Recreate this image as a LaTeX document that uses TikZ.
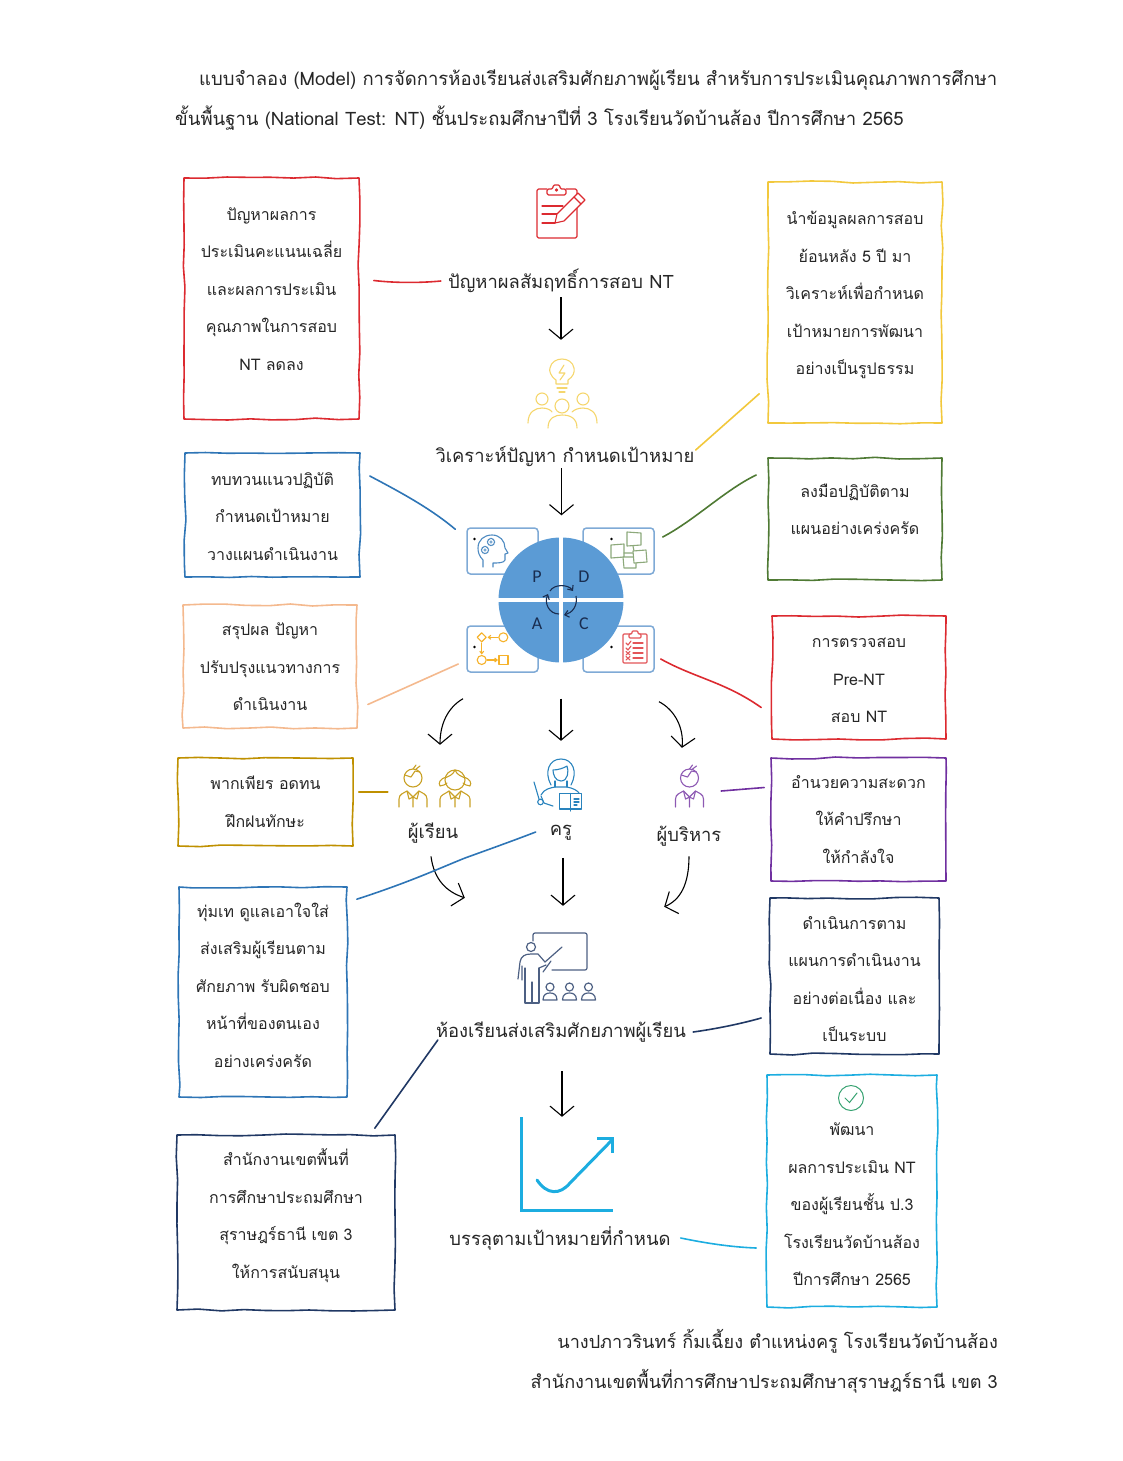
\documentclass[tikz,border=0pt]{standalone}
\usepackage{fontspec}
\setmainfont[Script=Thai]{Loma}
\newfontfamily\pdcafont{Carlito}
\usetikzlibrary{arrows.meta,calc,decorations.pathmorphing}
\definecolor{boxred}{HTML}{DC2A30}
\definecolor{boxyellow}{HTML}{F2C83C}
\definecolor{boxblue}{HTML}{2E75B6}
\definecolor{boxgreen}{HTML}{4F7A34}
\definecolor{boxpeach}{HTML}{F4B98E}
\definecolor{boxgold}{HTML}{BF9000}
\definecolor{boxpurple}{HTML}{7030A0}
\definecolor{boxnavy}{HTML}{1F4E79}
\definecolor{boxdeep}{HTML}{203864}
\definecolor{boxcyan}{HTML}{1CADE0}
\definecolor{discblue}{HTML}{5B9BD5}
\definecolor{cardblue}{HTML}{7FAAD6}
\definecolor{inktext}{HTML}{262626}
\tikzset{
  sketchbox/.style={draw=#1,line width=1.6pt,line join=round,inner sep=0pt,align=center,
    font=\fontsize{16}{37.5}\selectfont,text=inktext,
    decorate,decoration={random steps,segment length=22pt,amplitude=1pt}},
  flowlabel/.style={font=\fontsize{18.4}{24}\selectfont,text=inktext,inner sep=1pt},
  pagetext/.style={font=\fontsize{18.5}{24}\selectfont,text=inktext,inner sep=0pt},
  signtext/.style={font=\fontsize{18.1}{24}\selectfont,text=inktext,inner sep=0pt},
  linkline/.style={draw=#1,line width=1.6pt,line cap=round},
  flowarrow/.style={draw=black,line width=1.1pt,-{Straight Barb[length=10pt,width=24pt]}},
  card/.style={draw=cardblue,fill=white,line width=1.5pt,rounded corners=3.5pt,minimum width=71pt,minimum height=46pt,inner sep=0pt},
  pdcaletter/.style={font=\pdcafont\fontsize{18}{20}\selectfont,text=boxdeep!80!black,inner sep=0pt},
  cyclearrow/.style={draw=boxdeep!80!black,line width=1.1pt,-{Straight Barb[length=4pt,width=7pt]}},
  iconspot/.style={inner sep=0pt,minimum width=#1},
  iconline/.style={draw=#1,line width=1.1pt,line cap=round,line join=round},
  pics/boyicon/.style={code={
    \draw (0,0) circle (9);
    \draw (-8,-3) -- (-2,-1) -- (2,-7) -- (7,-6);
    \draw (0,-9) -- (3,-13) (3,-9) -- (7,-12);
    \draw (-14,29) -- (-14,21) .. controls (-14,16) and (-9,15) .. (-6,13) -- (0,19) -- (6,13) .. controls (9,15) and (14,16) .. (14,21) -- (14,29);
    \draw (0,19) -- (0,29) (-6,13) -- (-4,21) -- (0,19) -- (4,21) -- (6,13);
  }},
  pics/pupilicon/.style={code={
    \draw (0,0) circle (4);
    \draw (-7,13) .. controls (-7,7) and (-3,6) .. (0,6) .. controls (3,6) and (7,7) .. (7,13) -- cycle;
  }},
}
\begin{document}
\begin{tikzpicture}[x=1pt,y=-1pt]
\useasboundingbox (0,0) rectangle (1123,1461);
\pgfmathsetseed{17}

\node[pagetext,anchor=west] (titleA) at (199,80) {แบบจำลอง (Model) การจัดการห้องเรียนส่งเสริมศักยภาพผู้เรียน สำหรับการประเมินคุณภาพการศึกษา};
\node[pagetext,anchor=west] (titleB) at (175,118) {ขั้นพื้นฐาน (National Test: NT) ชั้นประถมศึกษาปีที่ 3 โรงเรียนวัดบ้านส้อง ปีการศึกษา 2565};
\node[signtext,anchor=east] (authorA) at (998,1341) {นางปภาวรินทร์ กิ้มเฉี้ยง ตำแหน่งครู โรงเรียนวัดบ้านส้อง};
\node[signtext,anchor=east] (authorB) at (998,1381) {สำนักงานเขตพื้นที่การศึกษาประถมศึกษาสุราษฎร์ธานี เขต 3};

\node[sketchbox=boxred,minimum width=175pt,minimum height=241pt,text width=175pt] (issueBox) at (271.5,298.5)
  {ปัญหาผลการ\\ประเมินคะแนนเฉลี่ย\\และผลการประเมิน\\คุณภาพในการสอบ\\NT ลดลง\\[-18.5pt]\mbox{}};
\node[sketchbox=boxyellow,minimum width=174pt,minimum height=241pt,text width=174pt] (dataBox) at (855,302.5)
  {นำข้อมูลผลการสอบ\\ย้อนหลัง 5 ปี มา\\วิเคราะห์เพื่อกำหนด\\เป้าหมายการพัฒนา\\อย่างเป็นรูปธรรม\\[-18.5pt]\mbox{}};
\node[sketchbox=boxblue,minimum width=175pt,minimum height=124pt,text width=175pt] (planBox) at (272.5,515)
  {\mbox{}\\[-21.5pt]ทบทวนแนวปฏิบัติ\\กำหนดเป้าหมาย\\วางแผนดำเนินงาน};
\node[sketchbox=boxgreen,minimum width=174pt,minimum height=122pt,text width=174pt] (doBox) at (855,519)
  {ลงมือปฏิบัติตาม\\แผนอย่างเคร่งครัด\\[-18.5pt]\mbox{}};
\node[sketchbox=boxpeach,minimum width=174pt,minimum height=123pt,text width=174pt] (actBox) at (270,666.5)
  {\mbox{}\\[-23.5pt]สรุปผล ปัญหา\\ปรับปรุงแนวทางการ\\ดำเนินงาน};
\node[sketchbox=boxred,minimum width=174pt,minimum height=123pt,text width=174pt] (checkBox) at (859,677.5)
  {\mbox{}\\[-21.5pt]การตรวจสอบ\\Pre-NT\\สอบ NT};
\node[sketchbox=boxgold,minimum width=175pt,minimum height=88pt,text width=175pt] (pupilBox) at (265.5,802)
  {พากเพียร อดทน\\ฝึกฝนทักษะ};
\node[sketchbox=boxpurple,minimum width=175pt,minimum height=123pt,text width=175pt] (headBox) at (858.5,819.5)
  {อำนวยความสะดวก\\ให้คำปรึกษา\\ให้กำลังใจ};
\node[sketchbox=boxblue,minimum width=168pt,minimum height=210pt,text width=168pt] (tutorBox) at (263,992)
  {ทุ่มเท ดูแลเอาใจใส่\\ส่งเสริมผู้เรียนตาม\\ศักยภาพ รับผิดชอบ\\หน้าที่ของตนเอง\\อย่างเคร่งครัด\\[-23.5pt]\mbox{}};
\node[sketchbox=boxdeep,minimum width=169pt,minimum height=156pt,text width=169pt] (runBox) at (854.5,976)
  {\mbox{}\\[-18.5pt]ดำเนินการตาม\\แผนการดำเนินงาน\\อย่างต่อเนื่อง และ\\เป็นระบบ};
\node[sketchbox=boxdeep,minimum width=218pt,minimum height=175pt,text width=218pt] (officeBox) at (286,1222.5)
  {สำนักงานเขตพื้นที่\\การศึกษาประถมศึกษา\\สุราษฎร์ธานี เขต 3\\ให้การสนับสนุน\\[-19.5pt]\mbox{}};
\node[sketchbox=boxcyan,minimum width=170pt,minimum height=232pt,text width=170pt] (growBox) at (852,1191)
  {\mbox{}\\[2.5pt]พัฒนา\\ผลการประเมิน NT\\ของผู้เรียนชั้น ป.3\\โรงเรียนวัดบ้านส้อง\\ปีการศึกษา 2565};

\node[iconspot=60pt,minimum height=54pt] (issueIcon) at (561,212) {};
\node[flowlabel] (issueLabel) at (561,281) {ปัญหาผลสัมฤทธิ์การสอบ NT};
\node[iconspot=80pt,minimum height=90pt] (teamIcon) at (561,385) {};
\node[flowlabel] (teamLabel) at (565,457) {วิเคราะห์ปัญหา กำหนดเป้าหมาย};

\node[card] (planCard) at (502.5,551) {};
\node[card] (doCard) at (618.5,551) {};
\node[card] (actCard) at (502.5,649) {};
\node[card] (checkCard) at (618.5,649) {};
\node[circle,fill=discblue,minimum size=125pt,inner sep=0pt] (pdcaDisc) at (561,600) {};
\draw[white,line width=4.5pt] (pdcaDisc.north) -- (pdcaDisc.south);
\draw[white,line width=4.5pt] (pdcaDisc.west) -- (pdcaDisc.east);
\node[pdcaletter] (letterP) at (537,577) {P};
\node[pdcaletter] (letterD) at (584,577) {D};
\node[pdcaletter] (letterA) at (537,624) {A};
\node[pdcaletter] (letterC) at (584,624) {C};
\draw[cyclearrow] (550,591) .. controls (554,584) and (568,584) .. (573,591);
\draw[cyclearrow] (576,596) .. controls (578,606) and (572,613) .. (564,615);
\draw[cyclearrow] (559,614) .. controls (549,614) and (544,603) .. (548,594);
\fill (474.5,539) circle (1.4) (611.5,539) circle (1.4) (474.5,647) circle (1.4) (611.5,647) circle (1.4);

\node[iconspot=80pt,minimum height=36pt] (pupilIcon) at (434,778) {};
\node[iconspot=50pt,minimum height=52pt] (tutorIcon) at (561,782) {};
\node[iconspot=40pt,minimum height=36pt] (headIcon) at (689,778) {};
\node[flowlabel] (pupilLabel) at (433,833) {ผู้เรียน};
\node[flowlabel] (tutorLabel) at (561,833) {ครู};
\node[flowlabel] (headLabel) at (689,836) {ผู้บริหาร};
\node[iconspot=80pt,minimum height=74pt] (roomIcon) at (557,968) {};
\node[flowlabel] (roomLabel) at (561,1032) {ห้องเรียนส่งเสริมศักยภาพผู้เรียน};
\node[iconspot=92pt,minimum height=94pt] (goalIcon) at (567,1164) {};
\node[flowlabel] (goalLabel) at (560,1238) {บรรลุตามเป้าหมายที่กำหนด};

\draw[flowarrow] ($(issueLabel.south)+(0,3)$) -- (teamIcon.north);
\draw[flowarrow] ($(teamLabel.south)+(-3.5,0)$) -- ($(pdcaDisc.north)+(0.5,-22)$);
\draw[flowarrow] ($(pdcaDisc.south)+(-98,36)$) .. controls (447,708) and (440,725) .. ($(pupilIcon.north)+(6,-15)$);
\draw[flowarrow] ($(pdcaDisc.south)+(0,36)$) -- ($(tutorIcon.north)+(0,-15)$);
\draw[flowarrow] ($(pdcaDisc.south)+(98,39)$) .. controls (675,710) and (684,728) .. ($(headIcon.north)+(-7,-12)$);
\draw[flowarrow] ($(pupilLabel.south)+(-2,12)$) .. controls (434,880) and (447,892) .. ($(roomIcon.north west)+(-52,-33)$);
\draw[flowarrow] ($(tutorLabel.south)+(2,16)$) -- ($(roomIcon.north)+(6,-25)$);
\draw[flowarrow] ($(headLabel.south)+(0,9)$) .. controls (689,885) and (680,900) .. ($(roomIcon.north east)+(67,-24)$);
\draw[flowarrow] ($(roomLabel.south)+(1,28)$) -- ($(goalIcon.north)+(-5,0)$);

\draw[linkline=boxred] ($(issueBox.east)+(14,-18)$) .. controls (395,283) and (420,283) .. ($(issueLabel.west)+(-6,0)$);
\draw[linkline=boxyellow] ($(teamLabel.east)+(0,-7)$) -- ($(dataBox.south west)+(-8,-30)$);
\draw[linkline=boxblue] ($(planBox.east)+(9,-39)$) .. controls (400,492) and (430,508) .. ($(planCard.north west)+(-11,2)$);
\draw[linkline=boxgreen] ($(doCard.east)+(8,-14)$) .. controls (695,520) and (725,490) .. ($(doBox.west)+(-11,-44)$);
\draw[linkline=boxpeach] ($(actBox.east)+(10,38)$) -- ($(actCard.west)+(-8,15)$);
\draw[linkline=boxred] ($(checkCard.east)+(6,10)$) .. controls (695,678) and (725,682) .. ($(checkBox.west)+(-10,30)$);
\draw[linkline=boxgold] ($(pupilBox.east)+(5,-10)$) -- ($(pupilIcon.west)+(-6,14)$);
\draw[linkline=boxpurple] ($(headIcon.east)+(12,13)$) -- ($(headBox.west)+(-6,-32)$);
\draw[linkline=boxblue] ($(tutorBox.north east)+(9,13)$) .. controls (410,882) and (440,868) .. (465,858) .. controls (490,849) and (515,840) .. ($(tutorLabel.west)+(-13,-1)$);
\draw[linkline=boxdeep] ($(roomLabel.east)+(6,0)$) .. controls (715,1029) and (740,1024) .. ($(runBox.west)+(-8,42)$);
\draw[linkline=boxdeep] ($(officeBox.north east)+(-21,-6)$) -- ($(roomLabel.west)+(3,8)$);
\draw[linkline=boxcyan] ($(goalLabel.east)+(9,0)$) .. controls (705,1243) and (730,1247) .. ($(growBox.west)+(-10,57)$);

\begin{scope}[iconline=boxred]
\draw[rounded corners=1.5pt] (566,189) -- (577,189) -- (577,238) -- (537,238) -- (537,189) -- (547,189);
\draw[rounded corners=1.5pt] (547,195) -- (566,195) -- (566,189) -- (560,189) -- (560,185) -- (553,185) -- (553,189) -- (547,189) -- cycle;
\draw (556.5,190) circle (1.2);
\draw (542,206) -- (563,206) (542,214) -- (560,214) (542,223) -- (555,223);
\draw[fill=white] (555,223) -- (557,214) -- (578,193) -- (585,200) -- (564,221) -- cycle;
\draw (574,197) -- (581,204);
\end{scope}

\begin{scope}[iconline=boxyellow!75!white]
\draw (556,384) -- (556,380) .. controls (550,376) and (549,370) .. (550,368) .. controls (552,356) and (572,356) .. (574,368) .. controls (575,372) and (573,377) .. (568,380) -- (568,384) -- cycle;
\draw (557,388) -- (567,388) (559,392) -- (565,392);
\draw (564,365) -- (559,373) -- (565,373) -- (560,380);
\draw (542,399) circle (6) (583,399) circle (6) (562,406) circle (7);
\draw (528,423) .. controls (528,412) and (535,408) .. (542,408) .. controls (547,408) and (551,410) .. (552,412);
\draw (597,423) .. controls (597,412) and (590,408) .. (583,408) .. controls (578,408) and (574,410) .. (572,412);
\draw (548,428) .. controls (548,418) and (555,415) .. (562,415) .. controls (570,415) and (577,418) .. (577,428);
\end{scope}

\begin{scope}[iconline=boxblue!85!white]
\draw (483,567) -- (483,560) .. controls (479,556) and (478,552) .. (478,548) .. controls (478,540) and (484,535) .. (492,535) .. controls (500,535) and (505,541) .. (505,548) -- (508,553) -- (505,554) -- (505,560) .. controls (504,563) and (498,563) .. (493,563) -- (493,567);
\draw[dash pattern=on 1pt off 0.8pt,line width=1.2pt] (491,542) circle (3.6) (485,550) circle (3.6);
\draw[line width=0.6pt] (491,542) circle (1.3) (485,550) circle (1.3);
\end{scope}

\begin{scope}[iconline=boxgreen!65!white,fill=white]
\draw (627,546) -- (641,545) -- (641,533) -- (627,532) -- cycle;
\draw (624,544) -- (611,545) -- (611,558) -- (624,557) -- cycle;
\draw (624,553) -- (633,553) (633,546) -- (634,551);
\draw[fill=white] (623,557) -- (636,557) -- (636,568) -- (624,568) -- cycle;
\draw[fill=white] (633,551) -- (646,550) -- (647,562) -- (634,563) -- cycle;
\end{scope}

\begin{scope}[iconline=boxyellow!70!orange]
\draw (481.7,632.8) -- (486.2,637.3) -- (481.7,641.8) -- (477.2,637.3) -- cycle;
\draw (503.3,637.3) circle (4.5) (481.7,660) circle (4.5);
\draw (499,655.5) rectangle (508,664.5);
\draw[-{Straight Barb[length=2.5pt,width=4pt]}] (498,637.3) -- (487.5,637.3);
\draw[-{Straight Barb[length=2.5pt,width=4pt]}] (481.7,643) -- (481.7,654.5);
\draw[-{Straight Barb[length=2.5pt,width=4pt]}] (487,660) -- (498,660);
\end{scope}

\begin{scope}[iconline=boxred!80!white]
\draw[rounded corners=1pt] (623,634) rectangle (647,663);
\draw[rounded corners=1pt,fill=white] (629,638) -- (629,634) -- (632,634) -- (632,631) -- (638,631) -- (638,634) -- (641,634) -- (641,638) -- cycle;
\draw (633,643) -- (643,643) (633,648) -- (643,648) (633,653) -- (643,653) (633,658) -- (643,658);
\draw (626,643) -- (628,645) -- (631,641) (626,648) -- (628,650) -- (631,646);
\draw (626,651.5) -- (630,655) (630,651.5) -- (626,655) (626,656.5) -- (630,660) (630,656.5) -- (626,660);
\end{scope}

\pic[iconline=boxgold!85!white] at (413,778) {boyicon};
\begin{scope}[iconline=boxgold!85!white]
\draw (455,780) circle (10);
\draw (445,778) .. controls (449,776) and (453,775) .. (455,770) .. controls (457,775) and (461,776) .. (465,778);
\draw (446,777) .. controls (440,779) and (438,783) .. (440,786) .. controls (443,786) and (446,784) .. (447,783);
\draw (464,777) .. controls (470,779) and (472,783) .. (470,786) .. controls (467,786) and (464,784) .. (463,783);
\draw (440,807) -- (440,799) .. controls (440,795) and (445,794) .. (449,791) -- (455,797) -- (461,791) .. controls (465,794) and (470,795) .. (470,799) -- (470,807);
\draw (455,797) -- (455,807) (449,791) -- (451,799) -- (455,797) -- (459,799) -- (461,791);
\end{scope}

\begin{scope}[iconline=boxblue!90!cyan]
\draw (551,785) .. controls (544,772) and (549,759) .. (561,759) .. controls (573,759) and (578,772) .. (571,785);
\draw (561,781) .. controls (555,781) and (553,774) .. (553,770) .. controls (558,770) and (564,768) .. (567,766) .. controls (569,771) and (568,781) .. (561,781);
\draw (555,781) -- (555,787) (567,781) -- (567,787);
\draw (541,795) .. controls (544,789) and (550,788) .. (555,787) -- (567,787) .. controls (573,788) and (578,791) .. (579,793);
\draw (553,806) -- (544,803) -- (541,796);
\draw (534,782) -- (539,799);
\draw (540.5,802) circle (2.8);
\draw (559.5,793.5) rectangle (581.5,809);
\draw (570.5,793.5) -- (570.5,811);
\draw (574,799) -- (579,799) (574,802) -- (579,802) (574,805) -- (577,805);
\end{scope}

\pic[iconline=boxpurple!80!white] at (689.5,778) {boyicon};

\begin{scope}[iconline=boxdeep!80!white,line width=1.2pt]
\draw[rounded corners=2pt] (533,941) -- (533,933) -- (587,933) -- (587,970) -- (552,970);
\draw (531,947) circle (4.5);
\draw (518,979) -- (520,962) .. controls (521,956) and (525,954) .. (531,954) -- (538,954) -- (545,962) -- (562,947);
\draw (522,966) -- (522,980) (543,972) -- (551,961) (546,965) -- (539,968);
\draw (525,968) -- (525,1003) -- (539,1003) -- (539,968);
\draw (532,982) -- (532,1003);
\pic at (550,987) {pupilicon};
\pic at (569.5,987) {pupilicon};
\pic at (588.5,987) {pupilicon};
\end{scope}

\begin{scope}[line width=3pt,line cap=butt,line join=miter]
\draw[boxcyan] (521,1117) -- (521,1210) -- (613,1210);
\draw[boxcyan,line cap=round] (537,1180) .. controls (547,1195) and (560,1195) .. (570,1183) -- (612,1140);
\draw[boxcyan] (597,1138.5) -- (612.5,1138.5) -- (612.5,1153);
\end{scope}

\draw[line width=1pt,draw=boxgreen!70!cyan] (851,1098) circle (12.5);
\draw[line width=1pt,draw=boxgreen!70!cyan,line cap=round] (845,1098) -- (849.5,1102.5) -- (857,1093);
\end{tikzpicture}
\end{document}
